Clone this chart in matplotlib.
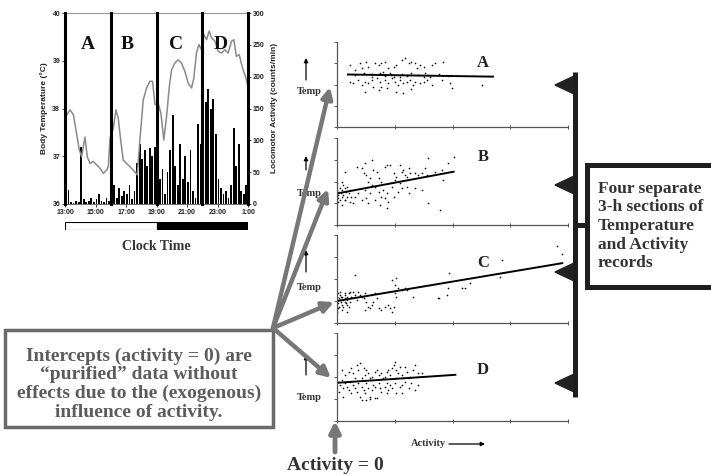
import matplotlib
matplotlib.use("Agg")
import matplotlib.pyplot as plt
from matplotlib.patches import Rectangle, Polygon

# ------------------------------------------------------------------ data
temp_hours = [13.04, 13.33, 13.55, 13.72, 13.94, 14.09, 14.31, 14.46, 14.64, 14.86,
              15.07, 15.29, 15.51, 15.73, 15.84, 15.95, 16.17, 16.34, 16.49, 16.65,
              16.82, 17.04, 17.26, 17.48, 17.74, 17.91, 18.13, 18.35, 18.57, 18.74,
              18.90, 19.11, 19.29, 19.48, 19.66, 19.83, 19.99, 20.20, 20.42, 20.64,
              20.86, 21.08, 21.30, 21.45, 21.62, 21.78, 21.95, 22.10, 22.28, 22.45,
              22.61, 22.83, 23.04, 23.26, 23.48, 23.70, 23.92, 24.07, 24.24, 24.42,
              24.64, 24.86, 25.00]
temp_values = [37.83, 37.97, 37.87, 37.55, 37.13, 36.99, 37.40, 36.99, 36.85, 36.89,
               36.82, 36.75, 36.64, 36.71, 36.78, 37.38, 37.59, 37.97, 37.80, 37.34,
               36.92, 36.85, 36.78, 36.71, 36.61, 37.34, 38.18, 38.43, 38.57, 38.57,
               38.08, 38.11, 37.90, 37.34, 37.83, 38.43, 38.81, 38.95, 39.02, 38.95,
               38.78, 38.53, 38.43, 38.64, 39.16, 39.34, 39.23, 39.55, 39.44, 39.62,
               39.48, 39.41, 39.20, 39.16, 39.23, 39.16, 39.41, 39.44, 39.09, 39.13,
               38.85, 38.64, 38.46]

activity_start_hour = 13.0
activity_bin_hours = 1 / 6
activity_counts = [38, 22, 3, 2, 5, 3,
                   90, 8, 3, 5, 10, 3,
                   8, 15, 5, 3, 10, 5,
                   15, 30, 10, 25, 12, 20,
                   15, 30, 8, 20, 65, 95,
                   70, 85, 60, 88, 75, 90,
                   60, 40, 55, 15, 50, 85,
                   140, 60, 30, 95, 40, 75,
                   35, 85, 20, 10, 125, 95,
                   175, 160, 180, 150, 165, 110,
                   40, 25, 15, 20, 10, 30,
                   120, 60, 95, 20, 15, 30]

section_bounds = [13, 16, 19, 22, 25]
section_labels = ["A", "B", "C", "D"]
clock_ticks = [13, 15, 17, 19, 21, 23, 25]
clock_tick_labels = ["13:00", "15:00", "17:00", "19:00", "21:00", "23:00", "1:00"]
temp_ticks = [36, 37, 38, 39, 40]
activity_ticks = [0, 50, 100, 150, 200, 250, 300]
light_start, dark_start, dark_end = 13, 19, 25

# scatter panels (activity vs temperature, arbitrary units)
A_x = [0.23, 0.31, 0.40, 0.43, 0.51, 0.54, 0.66, 0.72, 0.77, 0.83, 0.89, 0.98, 1.03, 1.12,
       1.18, 1.24, 1.29, 1.35, 1.38, 1.44, 1.50, 1.64, 1.70, 1.84,
       0.23, 0.28, 0.37, 0.43, 0.49, 0.54, 0.60, 0.63, 0.69, 0.75, 0.77, 0.83, 0.89, 0.95,
       1.01, 1.06, 1.09, 1.15, 1.21, 1.27, 1.32, 1.35, 1.44, 1.50, 1.55, 1.64, 1.82, 1.96,
       1.99, 2.51, 0.49, 0.72, 1.03, 1.15, 0.86, 1.29,
       0.31, 0.46, 0.60, 0.75, 0.83, 0.92, 0.98, 1.12, 1.21, 1.29, 1.41, 1.53, 1.61, 1.76,
       1.93, 0.60, 0.80, 1.09, 1.50]
A_y = [2.92, 2.68, 3.00, 2.76, 3.07, 2.84, 3.00, 2.92, 3.00, 3.07, 2.76, 2.84, 2.92, 3.15,
       3.23, 3.00, 3.07, 3.00, 2.76, 2.92, 2.84, 2.92, 3.00, 3.07,
       2.13, 2.05, 2.21, 1.98, 2.13, 2.05, 2.21, 1.90, 2.29, 2.13, 1.90, 2.21, 2.05, 2.29,
       2.13, 1.98, 2.21, 2.05, 2.13, 2.21, 1.98, 2.13, 2.05, 2.13, 2.21, 1.98, 2.21, 2.05,
       1.82, 1.98, 1.66, 1.74, 1.66, 1.62, 1.82, 1.77,
       2.45, 2.53, 2.49, 2.53, 2.40, 2.56, 2.37, 2.49, 2.40, 2.53, 2.45, 2.56, 2.37, 2.49,
       2.40, 2.37, 2.60, 2.34, 2.34]
A_line_x = [0.19, 2.70]
A_line_y = [2.47, 2.37]

B_x = [0.00, 0.01, 0.02, 0.03, 0.05, 0.05, 0.07, 0.08, 0.09, 0.11, 0.13, 0.14, 0.15, 0.17,
       0.18, 0.20, 0.02, 0.11, 0.23, 0.25, 0.00, 0.08,
       0.14, 0.34, 0.43, 0.49, 0.46, 0.51, 0.57, 0.54, 0.60, 0.63, 0.69, 0.72, 0.77, 0.83,
       0.86, 0.92, 0.98, 1.01, 1.03, 1.09, 1.12, 1.15, 1.18, 1.21, 1.24, 1.27, 1.35, 1.41,
       1.47, 1.53, 1.55, 1.58, 1.70, 1.82, 1.93, 2.02, 1.84,
       0.08, 0.14, 0.23, 0.28, 0.31, 0.37, 0.43, 0.49, 0.51, 0.54, 0.57, 0.66, 0.72, 0.75,
       0.77, 0.83, 0.86, 0.89, 0.98, 1.06, 1.12, 1.21, 1.24, 1.35, 1.47, 1.58, 1.79, 0.86,
       0.66, 0.95, 0.60, 0.80, 1.09]
B_y = [1.61, 1.38, 1.23, 1.53, 1.69, 1.15, 1.46, 1.30, 1.61, 1.38, 1.15, 1.69, 1.53, 1.30,
       1.76, 1.46, 1.07, 1.84, 1.61, 1.30, 1.92, 1.99,
       2.45, 2.68, 2.61, 2.84, 2.38, 2.30, 2.15, 1.99, 2.99, 2.53, 2.45, 2.15, 1.99, 2.68,
       2.76, 2.76, 2.38, 2.07, 2.22, 2.76, 2.45, 2.53, 2.30, 2.22, 2.61, 2.38, 2.38, 2.30,
       2.38, 2.61, 2.30, 3.07, 2.45, 2.53, 2.84, 3.14, 2.07,
       0.92, 1.15, 1.07, 1.00, 1.30, 1.46, 1.15, 1.61, 1.23, 1.00, 1.46, 1.15, 1.53, 0.92,
       1.30, 1.23, 1.46, 1.07, 1.30, 1.53, 1.69, 1.76, 1.46, 1.69, 1.61, 1.00, 0.69, 0.77,
       1.76, 1.76, 1.84, 1.61, 1.92]
B_line_x = [0.00, 2.02]
B_line_y = [1.45, 2.45]

C_x = [0.00, 0.01, 0.02, 0.03, 0.05, 0.07, 0.08, 0.09, 0.11, 0.13, 0.14, 0.15, 0.17, 0.18,
       0.20, 0.02, 0.05, 0.08, 0.11, 0.14, 0.23, 0.25, 0.01, 0.03, 0.07, 0.13, 0.17, 0.00,
       0.20, 0.28, 0.31, 0.34, 0.37, 0.40, 0.43, 0.46, 0.49, 0.51, 0.54, 0.57, 0.60, 0.63,
       0.66, 0.69, 0.72, 0.77, 0.83, 0.89, 0.92, 0.95, 0.98, 1.01, 1.03, 1.06, 1.12, 1.18,
       1.21, 1.32, 1.76, 1.90, 1.93, 2.16, 2.22, 2.31, 2.83, 2.86, 3.90, 1.94, 0.31, 0.95,
       1.03, 1.01, 0.17, 0.49, 0.23, 3.81, 1.75]
C_y = [1.20, 1.05, 0.89, 1.12, 1.27, 0.97, 0.82, 1.20, 1.05, 1.35, 1.12, 0.89, 1.20, 1.05,
       1.35, 0.67, 1.42, 0.59, 0.74, 1.27, 0.97, 1.20, 1.35, 0.74, 1.20, 0.97, 0.82, 0.52,
       0.74, 1.42, 1.27, 1.05, 1.42, 1.27, 1.20, 1.12, 1.35, 0.97, 0.74, 0.67, 0.82, 0.97,
       1.35, 1.12, 0.67, 0.59, 0.74, 0.82, 0.67, 0.52, 0.74, 1.35, 1.20, 1.58, 1.50, 1.58,
       1.50, 1.20, 1.12, 1.27, 1.58, 1.58, 1.58, 1.80, 2.11, 2.86, 3.14, 2.26, 2.18, 1.95,
       2.03, 1.73, 0.52, 0.59, 1.42, 3.50, 1.14]
C_line_x = [0.00, 3.90]
C_line_y = [1.00, 2.72]

D_x = [0.08, 0.14, 0.20, 0.25, 0.28, 0.34, 0.40, 0.37, 0.46, 0.51, 0.49, 0.54, 0.60, 0.66,
       0.69, 0.72, 0.77, 0.83, 0.86, 0.89, 0.92, 0.95, 1.01, 1.03, 1.06, 1.12, 1.18, 1.21,
       1.27, 1.32, 1.41, 1.47, 1.35, 1.09, 0.98, 0.31, 0.43, 0.57, 0.80, 1.03, 1.24,
       0.02, 0.05, 0.08, 0.11, 0.14, 0.17, 0.20, 0.23, 0.25, 0.28, 0.31, 0.34, 0.37, 0.40,
       0.43, 0.46, 0.49, 0.51, 0.54, 0.57, 0.60, 0.63, 0.66, 0.69, 0.72, 0.75, 0.77, 0.83,
       0.86, 0.89, 0.92, 0.95, 1.01, 1.03, 1.09, 1.12, 1.18, 1.24, 1.29, 1.35, 1.41, 0.43,
       0.51, 0.57, 0.66, 0.86, 1.12, 0.03, 0.11]
D_y = [2.32, 2.09, 2.24, 2.39, 2.17, 2.55, 2.62, 2.32, 2.39, 2.32, 2.09, 2.17, 2.02, 2.24,
       2.32, 2.09, 2.17, 2.02, 2.24, 2.32, 2.09, 2.39, 2.70, 2.32, 2.17, 2.09, 2.47, 2.24,
       2.02, 2.32, 2.17, 2.17, 2.55, 2.47, 2.55, 1.94, 1.94, 1.94, 1.94, 1.94, 1.94,
       1.79, 1.64, 1.86, 1.48, 1.71, 1.56, 1.41, 1.79, 1.26, 1.64, 1.48, 1.33, 1.71, 1.11,
       1.56, 1.41, 1.26, 1.71, 1.48, 1.11, 1.41, 1.64, 1.56, 1.03, 1.71, 1.48, 1.33, 1.56,
       1.71, 1.41, 1.64, 1.48, 1.71, 1.26, 1.56, 1.64, 1.79, 1.48, 1.71, 1.41, 1.64, 0.95,
       0.95, 0.98, 1.03, 1.26, 1.26, 1.33, 1.11]
D_line_x = [0.02, 2.05]
D_line_y = [1.74, 2.10]

panel_ticks = [0, 1, 2, 3, 4]

left_box_text = ("Intercepts (activity = 0) are\n\u201cpurified\u201d data without\n"
                 "effects due to the (exogenous)\ninfluence of activity.")
right_box_text = "Four separate\n3-h sections of\nTemperature\nand Activity\nrecords"

# ------------------------------------------------------------------ figure
W, H = 711, 475
SERIF = "Liberation Serif"
SANS = "Liberation Sans"
plt.rcParams["font.family"] = [SERIF, "DejaVu Serif"]
fig = plt.figure(figsize=(W / 100, H / 100), dpi=100)
fig.patch.set_facecolor("white")


def px_axes(x0, y0, x1, y1):
    return fig.add_axes([x0 / W, 1 - y1 / H, (x1 - x0) / W, (y1 - y0) / H])


# ---- top-left time chart
ax_a = px_axes(65, 13, 248, 204)
ax_t = ax_a.twinx()
ax_t.yaxis.tick_left()
ax_a.yaxis.tick_right()
ax_t.set_zorder(ax_a.get_zorder() + 1)
ax_t.patch.set_visible(False)

bin_starts = [activity_start_hour + i * activity_bin_hours for i in range(len(activity_counts))]
ax_a.bar(bin_starts, activity_counts, width=activity_bin_hours * 0.72, align="edge",
         color="black", linewidth=0)
ax_a.set_ylim(0, 300)
ax_a.set_xlim(13, 25)
ax_a.set_yticks(activity_ticks)

ax_t.plot(temp_hours, temp_values, color="#8a8a8a", lw=1.1)
ax_t.set_ylim(36, 40)
ax_t.set_xlim(13, 25)
ax_t.set_yticks(temp_ticks)
for b in section_bounds:
    ax_t.axvline(b, color="black", lw=2.2, zorder=5, clip_on=False)
for lab, xpos in zip(section_labels, [14.5, 17.1, 20.3, 23.2]):
    ax_t.text(xpos, 39.33, lab, ha="center", va="center", fontsize=14,
              fontweight="bold", family=SERIF, color="#111")

ax_a.set_xticks(clock_ticks)
ax_a.set_xticklabels(clock_tick_labels)
for ax in (ax_a, ax_t):
    for sp in ax.spines.values():
        sp.set_visible(False)
    ax.tick_params(labelsize=5, length=2, width=0.6, pad=1.5, colors="#222")
    for lbl in ax.get_xticklabels() + ax.get_yticklabels():
        lbl.set_fontweight("bold")
        lbl.set_family(SANS)
ax_a.spines["top"].set_visible(True)
ax_a.spines["top"].set_color("#999")
ax_a.spines["bottom"].set_visible(True)
ax_a.spines["bottom"].set_color("#555")
ax_a.spines["bottom"].set_linewidth(0.6)
ax_t.tick_params(axis="x", bottom=False, labelbottom=False)

# light/dark bar
ax_ld = px_axes(65, 222, 248, 230)
ax_ld.barh(0, dark_start - light_start, left=light_start, height=1, color="white",
           edgecolor="black", lw=0.8)
ax_ld.barh(0, dark_end - dark_start, left=dark_start, height=1, color="black",
           edgecolor="black", lw=0.8)
ax_ld.set_xlim(13, 25)
ax_ld.set_ylim(-0.5, 0.5)
ax_ld.axis("off")

# ---- scatter panels
panels = [
    (42, 127, A_x, A_y, A_line_x, A_line_y),
    (138, 225, B_x, B_y, B_line_x, B_line_y),
    (235, 323, C_x, C_y, C_line_x, C_line_y),
    (333, 421, D_x, D_y, D_line_x, D_line_y),
]
for top, bot, xs, ys, lx, ly in panels:
    ax = px_axes(337, top, 568, bot)
    ax.scatter(xs, ys, s=1.4, color="black", linewidths=0)
    ax.plot(lx, ly, color="black", lw=1.4)
    ax.set_xlim(0, 4)
    ax.set_ylim(0, 4)
    ax.set_xticks(panel_ticks)
    ax.set_yticks(panel_ticks)
    ax.set_xticklabels([])
    ax.set_yticklabels([])
    ax.tick_params(length=2.5, width=0.7, colors="#555", direction="out")
    ax.tick_params(axis="x", direction="inout", length=3)
    for s in ("top", "right"):
        ax.spines[s].set_visible(False)
    for s in ("left", "bottom"):
        ax.spines[s].set_color("#555")
        ax.spines[s].set_linewidth(0.9)
    ax.patch.set_alpha(0)

# ---- overlay (annotations in pixel space)
ov = fig.add_axes([0, 0, 1, 1])
ov.set_xlim(0, W)
ov.set_ylim(H, 0)
ov.axis("off")
ov.patch.set_alpha(0)

ov.text(44, 108, "Body Temperature (\u00b0C)", rotation=90, ha="center", va="center",
        fontsize=6, fontweight="bold", family=SANS, color="#222")
ov.text(275, 108, "Locomotor Activity (counts/min)", rotation=90, ha="center",
        va="center", fontsize=6, fontweight="bold", family=SANS, color="#222")
ov.text(156, 247, "Clock Time", ha="center", va="center", fontsize=10,
        fontweight="bold", color="#333")

# panel letters, Temp labels with small arrows
for lab, ly_, temp_y, arr in zip(section_labels, [63, 157, 263, 370],
                                 [92, 193, 287, 397],
                                 [(80, 58), (170, 156), (272, 250), (375, 355)]):
    ov.text(483, ly_, lab, ha="center", va="center", fontsize=12, fontweight="bold",
            color="#222")
    ov.text(309, temp_y, "Temp", ha="center", va="center", fontsize=7.5,
            fontweight="bold", color="#333")
    ov.annotate("", xy=(306, arr[1]), xytext=(306, arr[0]),
                arrowprops=dict(arrowstyle="-|>", color="black", lw=0.9,
                                mutation_scale=6, shrinkA=0, shrinkB=0))

# left box
ov.add_patch(Rectangle((5, 330), 268, 97, facecolor="white", edgecolor="#6a6a6a",
                       lw=2.5, zorder=3))
ov.text(139, 384, left_box_text, ha="center", va="center", fontsize=14,
        fontweight="bold", color="#5c5c5c", linespacing=1.12, zorder=4)

# gray arrows from box corner to intercepts
for tip in [(330, 87), (328, 189), (334, 302), (331, 378)]:
    ov.annotate("", xy=tip, xytext=(273, 328),
                arrowprops=dict(arrowstyle="-|>", color="#777777", lw=3.2,
                                mutation_scale=16, shrinkA=0, shrinkB=0), zorder=5)

# activity = 0 arrow
ov.annotate("", xy=(335, 421), xytext=(335, 452),
            arrowprops=dict(arrowstyle="-|>", color="#777777", lw=3.5,
                            mutation_scale=16, shrinkA=0, shrinkB=0))
ov.text(335, 465, "Activity = 0", ha="center", va="center", fontsize=14,
        fontweight="bold", color="#333")
ov.text(428, 444, "Activity", ha="center", va="center", fontsize=7.5,
        fontweight="bold", color="#333")
ov.annotate("", xy=(485, 444), xytext=(449, 444),
            arrowprops=dict(arrowstyle="-|>", color="black", lw=0.9,
                            mutation_scale=6, shrinkA=0, shrinkB=0))

# bracket with triangles
ov.plot([575, 575], [72, 397], color="#1e1e1e", lw=3.6, solid_capstyle="butt")
ov.plot([575, 588], [225, 225], color="#1e1e1e", lw=3.6, solid_capstyle="butt")
for ty in [85, 185, 272, 383]:
    ov.add_patch(Polygon([(555, ty), (573, ty - 8.5), (573, ty + 8.5)],
                         closed=True, color="#222"))

# right box
ov.add_patch(Rectangle((587, 165), 140, 122, facecolor="white", edgecolor="#1e1e1e",
                       lw=3.6, zorder=3))
ov.text(598, 226, right_box_text, ha="left", va="center", fontsize=12.5,
        fontweight="bold", color="#333", linespacing=1.22, zorder=4)

fig.savefig("out.png", dpi=100, facecolor="white")
